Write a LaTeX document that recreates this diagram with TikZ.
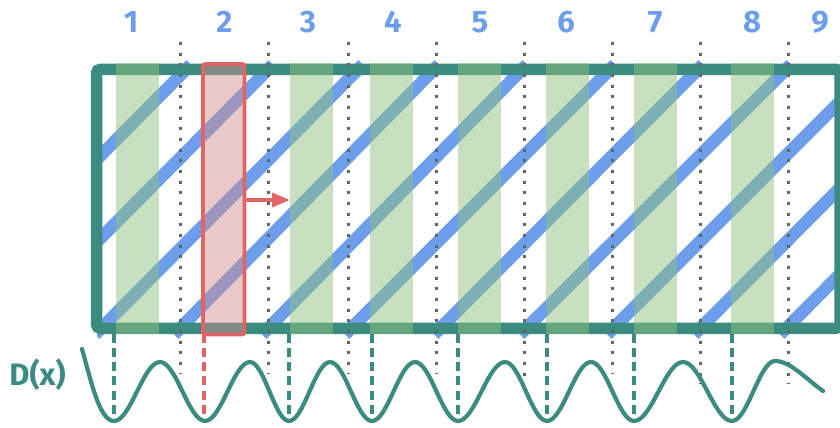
\documentclass[tikz,border=0pt]{standalone}
\usepackage{fontspec}
\setmainfont{Fira Sans}[BoldFont={Fira Sans Bold}]
\usetikzlibrary{arrows.meta}
\definecolor{tealc}{RGB}{59,139,128}
\definecolor{bluec}{RGB}{109,158,235}
\definecolor{greenc}{RGB}{143,193,127}
\definecolor{redc}{RGB}{224,102,102}
\definecolor{pinkc}{RGB}{210,140,140}
\definecolor{greyc}{RGB}{100,100,100}
\begin{document}
\begin{tikzpicture}[x=1pt,y=-1pt,
  diag/.style={bluec, line width=12.5pt},
  framebox/.style={tealc, line width=11.5pt, rounded corners=4pt},
  band/.style={fill=greenc, fill opacity=0.5},
  selbox/.style={draw=redc, line width=3.6pt, fill=pinkc, fill opacity=0.47, draw opacity=1, rounded corners=2pt},
  dotline/.style={greyc, line width=3pt, dash pattern=on 3pt off 7.67pt},
  dashline/.style={tealc, line width=3.4pt, dash pattern=on 9pt off 5.3pt},
  reddash/.style={redc, line width=3.4pt, dash pattern=on 9pt off 5.3pt},
  wave/.style={tealc, line width=4.2pt, line cap=round},
  num/.style={text=bluec, font=\fontsize{31}{33}\selectfont\bfseries, anchor=base, inner sep=0pt},
  dlabel/.style={text=tealc, font=\fontsize{31}{33}\selectfont\bfseries, anchor=base, inner sep=0pt},
  movearrow/.style={redc, line width=3.4pt, -{Triangle[length=18pt,width=14pt]}}
]
\useasboundingbox (0,0) rectangle (840,428);

% diagonal blue lines
\begin{scope}
  \clip (97,0) rectangle (845,428);
  \foreach \b/\t in {-77/191, 5/273, 95/363, 174/439, 262/527, 345/615, 434/703, 520/791, 607/877, 694/963, 780/1049} {
    \draw[diag] (\b,334.5) -- (\t,64.5);
  }
\end{scope}

% frame
\draw[framebox] (96.5,69.3) rectangle (840,328.3);

% green bands
\foreach \xa in {116,290,370,458,546,634,731} {
  \fill[band] (\xa,63.5) rectangle ({\xa+43},334);
}

% selected red column
\path[selbox] (203,64) rectangle (244.5,334.5);
\coordinate (arrS) at (246,200);
\coordinate (arrE) at (290,200);
\draw[movearrow] (arrS) -- (arrE);

% dotted separators
\foreach \xd/\ye in {180/374, 268/374, 348/374, 436/374, 524/380, 612/374, 700/384, 788/384} {
  \coordinate (dt\xd) at (\xd,42);
  \coordinate (db\xd) at (\xd,\ye);
  \draw[dotline] (dt\xd) -- (db\xd);
}

% dashed drop lines
\foreach \xm in {114,289,372,458,547,634,732} {
  \coordinate (ma\xm) at (\xm,333.5);
  \coordinate (mb\xm) at (\xm,414);
  \draw[dashline] (ma\xm) -- (mb\xm);
}
\coordinate (ra) at (204,333.5);
\coordinate (rb) at (204,414);
\draw[reddash] (ra) -- (rb);

% wave D(x)
\draw[wave] (82,349) .. controls (92,385) and (100,421) .. (114,421)
  .. controls (130.75,421) and (143.25,362) .. (160,362)
  .. controls (176.4,362) and (188.6,421) .. (205,421)
  .. controls (221.4,421) and (233.6,362) .. (250,362)
  .. controls (264.2,362) and (274.8,421) .. (289,421)
  .. controls (303.9,421) and (315.1,362) .. (330,362)
  .. controls (345.3,362) and (356.7,421) .. (372,421)
  .. controls (387.7,421) and (399.3,362) .. (415,362)
  .. controls (430.7,362) and (442.3,421) .. (458,421)
  .. controls (475.1,421) and (487.9,362) .. (505,362)
  .. controls (520.3,362) and (531.7,421) .. (547,421)
  .. controls (563,421) and (575,362) .. (591,362)
  .. controls (606.7,362) and (618.3,421) .. (634,421)
  .. controls (651.8,421) and (665.2,362) .. (683,362)
  .. controls (700.8,362) and (714.2,421) .. (732,421)
  .. controls (747.7,421) and (759.3,361) .. (775,361)
  .. controls (790,361) and (805,378) .. (823,391);

% labels
\node[num] (n1) at (131,32.5) {1};
\node[num] (n2) at (224.5,32.5) {2};
\node[num] (n3) at (308,32.5) {3};
\node[num] (n4) at (393,32.5) {4};
\node[num] (n5) at (480,32.5) {5};
\node[num] (n6) at (566,32.5) {6};
\node[num] (n7) at (655,32.5) {7};
\node[num] (n8) at (752,32.5) {8};
\node[num] (n9) at (820,32.5) {9};
\node[dlabel] (dx) at (37.5,385.5) {D(x)};
\end{tikzpicture}
\end{document}
